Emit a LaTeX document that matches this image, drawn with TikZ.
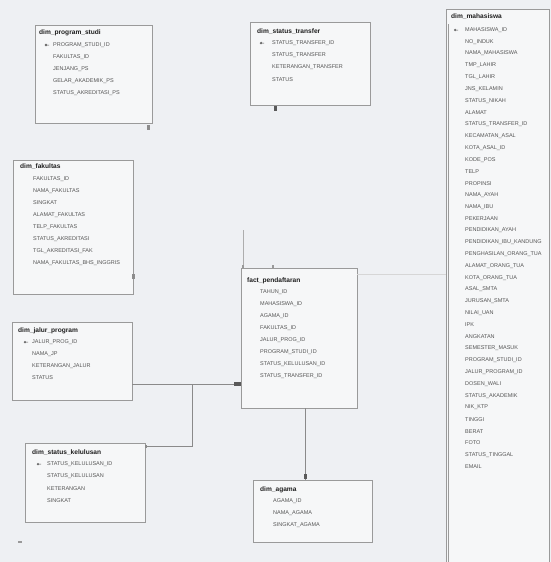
\documentclass[tikz,border=0pt]{standalone}
\usepackage{fontspec}
\setmainfont{Liberation Sans}
\usetikzlibrary{fit}
\definecolor{bgc}{HTML}{EEF0F3}
\definecolor{boxc}{HTML}{9A9A9A}
\definecolor{ttlc}{HTML}{1E1E1E}
\definecolor{fldc}{HTML}{555555}
\definecolor{linec}{HTML}{8A8A8A}
\tikzset{
  tbox/.style={draw=boxc, line width=0.8pt, inner sep=0pt, fill=white!45!bgc},
  ttl/.style={anchor=west, inner sep=0pt, text=ttlc, font=\fontsize{6.6}{7}\selectfont\bfseries},
  fld/.style={anchor=west, inner sep=0pt, text=fldc, font=\fontsize{5.5}{6}\selectfont},
  conn/.style={draw=linec, line width=0.8pt},
  endmark/.style={fill=black!65, inner sep=0pt, minimum width=3pt, minimum height=5pt},
  keyicon/.style={draw=fldc, line width=0.5pt}
}
\newcommand{\ertable}[8]{%
  \node[tbox, fit={#2}] (#1) {};
  \node[ttl] (#1-title) at #3 {#4};
  \foreach \f [count=\i] in {#8}{\node[fld] (#1-f\i) at (#5,{#6+#7*(\i-1)}) {\f};}
}
\newcommand{\keyat}[1]{\draw[keyicon] #1 circle (0.9pt) ++(0.9pt,0) -- ++(2.2pt,0);}
\begin{document}
\begin{tikzpicture}[x=1pt,y=-1pt]
\useasboundingbox (0,0) rectangle (551,562);
\fill[bgc] (0,0) rectangle (551,562);

% dim_program_studi
\ertable{prodi}{(35,25) (152,123)}{(39,33)}{dim\_program\_studi}{53}{45}{12}
  {PROGRAM\_STUDI\_ID,FAKULTAS\_ID,JENJANG\_PS,GELAR\_AKADEMIK\_PS,STATUS\_AKREDITASI\_PS}
\keyat{(46,45)}

% dim_status_transfer
\ertable{stt}{(250,22) (370,105)}{(257,32)}{dim\_status\_transfer}{272}{43}{12.3}
  {STATUS\_TRANSFER\_ID,STATUS\_TRANSFER,KETERANGAN\_TRANSFER,STATUS}
\keyat{(261,43)}

% dim_mahasiswa
\ertable{mhs}{(446,9) (549,580)}{(451,17)}{dim\_mahasiswa}{465}{30}{11.8}
  {MAHASISWA\_ID,NO\_INDUK,NAMA\_MAHASISWA,TMP\_LAHIR,TGL\_LAHIR,JNS\_KELAMIN,STATUS\_NIKAH,ALAMAT,STATUS\_TRANSFER\_ID,KECAMATAN\_ASAL,KOTA\_ASAL\_ID,KODE\_POS,TELP,PROPINSI,NAMA\_AYAH,NAMA\_IBU,PEKERJAAN,PENDIDIKAN\_AYAH,PENDIDIKAN\_IBU\_KANDUNG,PENGHASILAN\_ORANG\_TUA,ALAMAT\_ORANG\_TUA,KOTA\_ORANG\_TUA,ASAL\_SMTA,JURUSAN\_SMTA,NILAI\_UAN,IPK,ANGKATAN,SEMESTER\_MASUK,PROGRAM\_STUDI\_ID,JALUR\_PROGRAM\_ID,DOSEN\_WALI,STATUS\_AKADEMIK,NIK\_KTP,TINGGI,BERAT,FOTO,STATUS\_TINGGAL,EMAIL}
\keyat{(455,30)}
\draw[draw=boxc, line width=0.6pt] (448,24) -- (448,580);

% dim_fakultas
\ertable{fak}{(13,160) (133,294)}{(20,167)}{dim\_fakultas}{33}{179}{12}
  {FAKULTAS\_ID,NAMA\_FAKULTAS,SINGKAT,ALAMAT\_FAKULTAS,TELP\_FAKULTAS,STATUS\_AKREDITASI,TGL\_AKREDITASI\_FAK,NAMA\_FAKULTAS\_BHS\_INGGRIS}

% dim_jalur_program
\ertable{jalur}{(12,322) (132,400)}{(18,331)}{dim\_jalur\_program}{32}{342}{12}
  {JALUR\_PROG\_ID,NAMA\_JP,KETERANGAN\_JALUR,STATUS}
\keyat{(25,342)}

% dim_status_kelulusan
\ertable{kel}{(25,443) (145,522)}{(32,453)}{dim\_status\_kelulusan}{47}{464}{12.2}
  {STATUS\_KELULUSAN\_ID,STATUS\_KELULUSAN,KETERANGAN,SINGKAT}
\keyat{(38,464)}

% fact_pendaftaran
\ertable{fact}{(241,268) (357,408)}{(247,281)}{fact\_pendaftaran}{260}{292}{12}
  {TAHUN\_ID,MAHASISWA\_ID,AGAMA\_ID,FAKULTAS\_ID,JALUR\_PROG\_ID,PROGRAM\_STUDI\_ID,STATUS\_KELULUSAN\_ID,STATUS\_TRANSFER\_ID}

% dim_agama
\ertable{agama}{(253,480) (372,542)}{(260,490)}{dim\_agama}{273}{501}{12}
  {AGAMA\_ID,NAMA\_AGAMA,SINGKAT\_AGAMA}

% connectors
\coordinate (jn) at (192,384);
\coordinate (stub) at (243,230);
\draw[conn] (jalur.east |- 0,384) -- (fact.west |- 0,384);
\draw[conn] (kel.east |- 0,446) -- (jn |- 0,446) -- (jn);
\draw[conn] (fact.south -| 305,0) -- (agama.north -| 305,0);
\draw[conn, draw=linec!70] (stub) -- (fact.north -| stub);
\draw[conn, draw=linec!35] (fact.east |- 0,274) -- (mhs.west |- 0,274);

% end markers
\node[endmark, minimum width=7pt, minimum height=4pt] (m1) at (237,384) {};
\node[endmark] (m2) at (305,476) {};
\node[endmark] (m3) at (275,108) {};
\node[endmark, fill=black!45] (m4) at (148,127) {};
\node[endmark, fill=black!45] (m5) at (133,276) {};
\node[endmark, fill=black!45, minimum width=2pt, minimum height=3pt] (m6) at (146,446) {};
\node[endmark, fill=black!40, minimum width=2pt, minimum height=3pt] (m7) at (243,266) {};
\node[endmark, fill=black!40, minimum width=2pt, minimum height=3pt] (m8) at (273,266) {};
\node[endmark, fill=black!40, minimum width=4pt, minimum height=2pt] (m9) at (20,542) {};
\end{tikzpicture}
\end{document}
